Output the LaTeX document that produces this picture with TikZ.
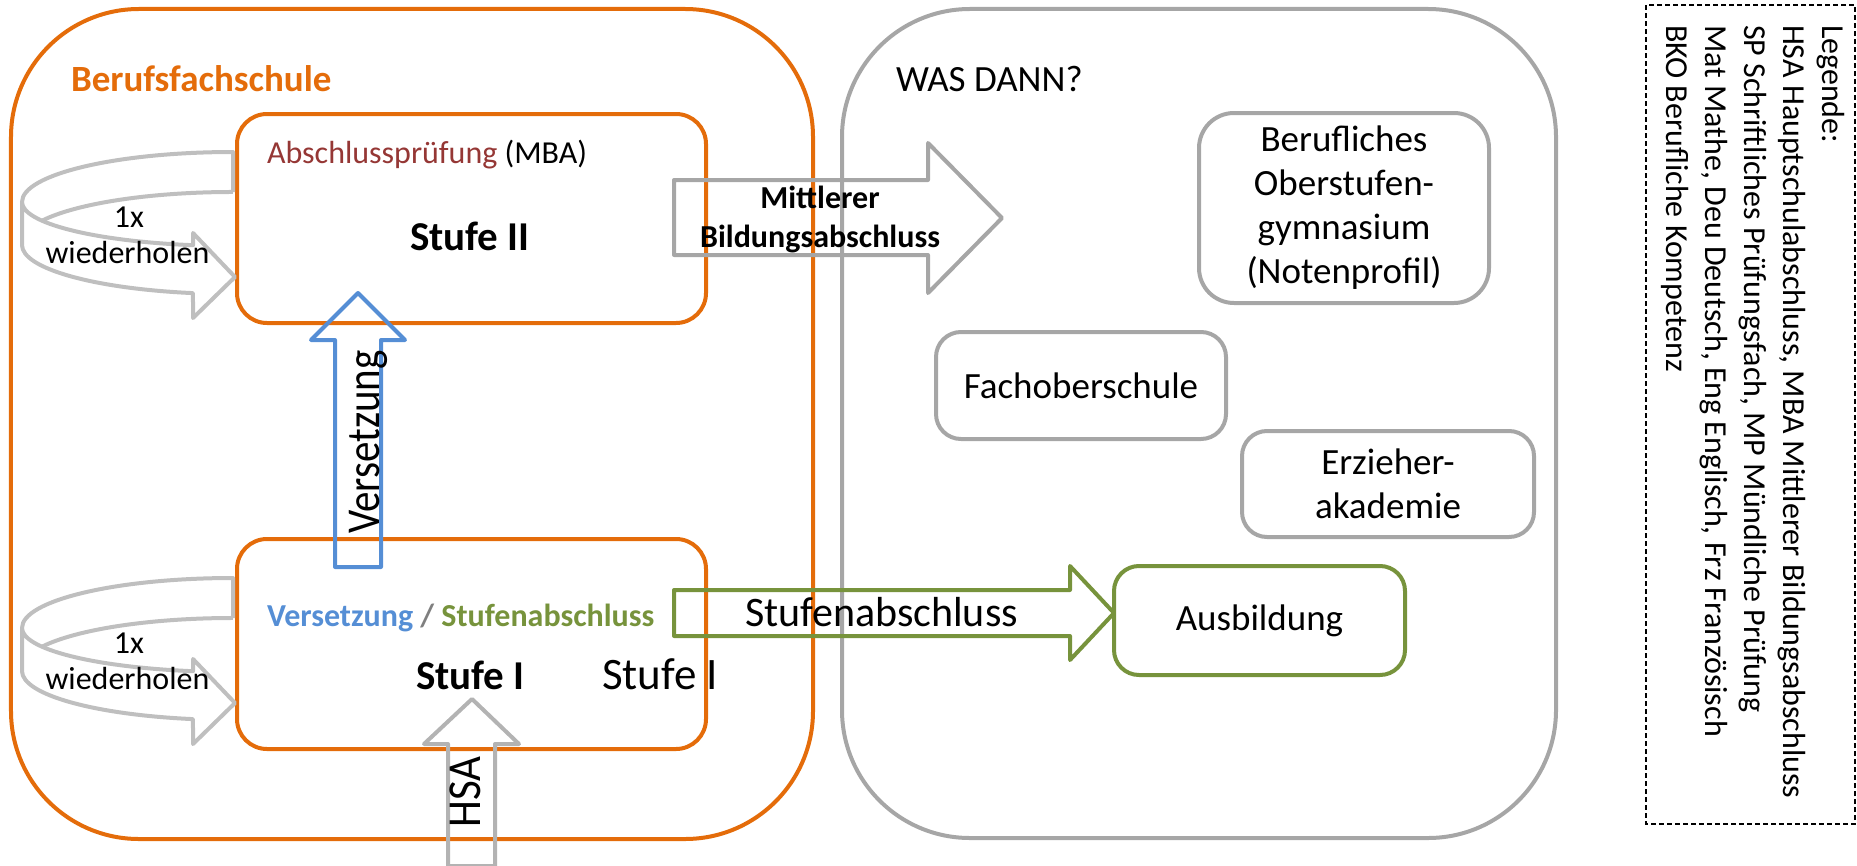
\documentclass[tikz,border=0pt]{standalone}
\usepackage{fontspec}
\setmainfont{Carlito}
\definecolor{orng}{HTML}{E46C0A}
\definecolor{gryb}{HTML}{A6A6A6}
\definecolor{grya}{HTML}{BFBFBF}
\definecolor{hsag}{HTML}{B3B3B3}
\definecolor{blu}{HTML}{558ED5}
\definecolor{grn}{HTML}{77933C}
\definecolor{drd}{HTML}{953735}
\definecolor{slashgray}{HTML}{7F7F7F}
\newcommand{\fsz}[2]{\fontsize{#1bp}{#2bp}\selectfont}
\begin{document}
\begin{tikzpicture}[x=1bp,y=-1bp,
  txt/.style={inner sep=0pt, outer sep=0pt},
  bigbox/.style={draw, line width=4bp, rounded corners=128bp, inner sep=0pt},
  stufebox/.style={draw=orng, line width=4bp, rounded corners=30bp, inner sep=0pt, minimum width=469bp, minimum height=210bp},
  smallbox/.style={draw=gryb, line width=4bp, rounded corners=25bp, align=center, inner sep=0pt, font=\fsz{37}{44}},
  blockarrow/.style={line width=4bp, line join=round},
  curvearrow/.style={draw=grya, line width=4bp, line join=round},
  legbox/.style={draw=black, line width=1.4bp, dash pattern=on 5bp off 3bp}]
\useasboundingbox (0,0) rectangle (1857,866);

% main containers
\node[bigbox, draw=orng, minimum width=802bp, minimum height=830bp] (bfs) at (412,424) {};
\node[bigbox, draw=gryb, minimum width=714bp, minimum height=829bp] (wd) at (1199,423.5) {};
\node[txt, anchor=base west, text=orng, font=\bfseries\fsz{37}{44}] (bfstitle) at (71,91) {Berufsfachschule};
\node[txt, anchor=base west, font=\fsz{37}{44}] (wdtitle) at (896,91) {WAS DANN?};

% Stufe II
\node[stufebox, minimum height=209bp] (s2) at (471.5,218.5) {};
\node[txt, anchor=base west, font=\fsz{32}{38}] (ap) at (267,163) {\textcolor{drd}{Abschlussprüfung} (MBA)};
\node[txt, anchor=base west, font=\bfseries\fsz{41}{49}] (s2l) at (410,250) {Stufe II};

% Stufe I
\node[stufebox] (s1) at (471.5,644) {};
\node[txt, anchor=base west, font=\bfseries\fsz{32}{38}] (vs) at (267,626) {\textcolor{blu}{Versetzung} \textcolor{slashgray}{/} \textcolor{grn}{Stufenabschluss}};
\node[txt, anchor=base west, font=\bfseries\fsz{41}{49}] (s1l) at (416,689) {Stufe I};
\node[txt, anchor=base west, font=\fsz{45}{54}] (s1r) at (602,689) {Stufe I};

% right side boxes
\node[smallbox, minimum width=290bp, minimum height=190bp, rounded corners=35bp] (bog) at (1344,208) {Berufliches\\Oberstufen-\\gymnasium\\(Notenprofil)};
\node[smallbox, minimum width=290bp, minimum height=107bp] (fos) at (1081,385.5) {Fachoberschule};
\node[smallbox, minimum width=292bp, minimum height=106bp] (ea) at (1388,484) {Erzieher-\\akademie};
\node[smallbox, draw=grn, minimum width=291bp, minimum height=109bp] (ausb) at (1259.5,620.5) {Ausbildung};

% block arrows
\draw[blockarrow, draw=gryb] (674,180) -- (928,180) -- (928,143) -- (1002,218) -- (928,293) -- (928,255) -- (674,255) -- cycle;
\node[txt, anchor=base, font=\bfseries\fsz{32}{38}] (mba1) at (820,208) {Mittlerer};
\node[txt, anchor=base, font=\bfseries\fsz{32}{38}] (mba2) at (820,247) {Bildungsabschluss};

\draw[blockarrow, draw=grn] (674,590) -- (1070,590) -- (1070,566) -- (1114,613) -- (1070,660) -- (1070,636) -- (674,636) -- cycle;
\node[txt, anchor=base west, font=\fsz{42}{50}] (sta) at (745,626) {Stufenabschluss};

\draw[blockarrow, draw=blu] (335,567) -- (335,340) -- (311,340) -- (358,293) -- (405,340) -- (381,340) -- (381,567) -- cycle;
\node[txt, rotate=90, yscale=1.15, anchor=base, font=\fsz{41}{49}] (vers) at (379,442) {Versetzung};

\draw[blockarrow, draw=hsag] (448,866) -- (448,744) -- (424,744) -- (472,699) -- (519,744) -- (495,744) -- (495,866) -- cycle;
\node[txt, rotate=90, yscale=1.1, anchor=base, font=\fsz{43}{51}] (hsa) at (480,792) {HSA};

% curved "1x wiederholen" arrows
\foreach \dy in {0,426}{
\begin{scope}[shift={(0,\dy)}]
\draw[curvearrow] (233,192) -- (233,152)
  arc[start angle=270, end angle=180, x radius=211, y radius=50]
  -- (22,245)
  arc[start angle=180, end angle=100.93, x radius=211, y radius=49]
  -- (193,318) -- (235,277) -- (193,233) -- (193,245.2)
  arc[start angle=100.93, end angle=180, x radius=211, y radius=44];
\draw[curvearrow] (42,220.7) arc[start angle=205.2, end angle=270, x radius=211, y radius=50];
\node[txt, anchor=base, font=\fsz{32}{38}] at (129,227) {1x};
\node[txt, anchor=base, font=\fsz{32}{38}] at (127.5,263) {wiederholen};
\end{scope}}

% legend
\draw[legbox] (1646,5) rectangle (1855,824);
\node[txt, rotate=-90, anchor=base west, font=\fsz{32}{38}] (lg0) at (1822,25) {Legende:};
\node[txt, rotate=-90, anchor=base west, font=\fsz{32}{38}] (lg1) at (1783,25) {HSA Hauptschulabschluss, MBA Mittlerer Bildungsabschluss};
\node[txt, rotate=-90, anchor=base west, font=\fsz{32}{38}] (lg2) at (1744,25) {SP Schriftliches Prüfungsfach, MP Mündliche Prüfung};
\node[txt, rotate=-90, anchor=base west, font=\fsz{32}{38}] (lg3) at (1705,25) {Mat Mathe, Deu Deutsch, Eng Englisch, Frz Französisch};
\node[txt, rotate=-90, anchor=base west, font=\fsz{32}{38}] (lg4) at (1666,25) {BKO Berufliche Kompetenz};
\end{tikzpicture}
\end{document}
